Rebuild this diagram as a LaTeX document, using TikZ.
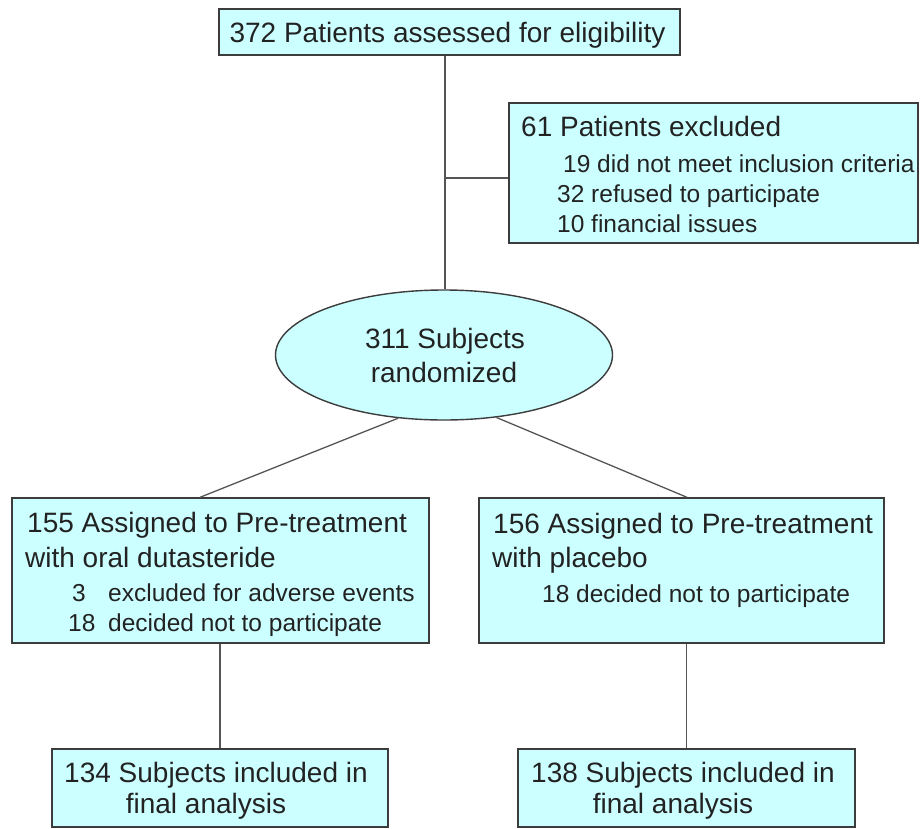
\documentclass[tikz,border=0pt]{standalone}
\usepackage{fontspec}
\setmainfont{Liberation Sans}
\usetikzlibrary{shapes.geometric}
\definecolor{boxfill}{HTML}{CCFFFF}
\definecolor{boxline}{HTML}{3C3C3C}
\definecolor{conn}{HTML}{555555}
\definecolor{txt}{HTML}{222222}
\begin{document}
\begin{tikzpicture}[x=1pt,y=-1pt,
  box/.style={draw=boxline,fill=boxfill,line width=1.4pt,inner sep=0pt,rectangle},
  oval/.style={draw=boxline,fill=boxfill,line width=1.4pt,inner sep=0pt,ellipse},
  big/.style={inner sep=0pt,text=txt,font=\fontsize{28}{33.6}\selectfont},
  small/.style={inner sep=0pt,text=txt,font=\fontsize{24.5}{29.4}\selectfont},
  link/.style={draw=conn,line width=1.3pt}]
\useasboundingbox (0,0) rectangle (921,828);
% boxes
\node[box,minimum width=461pt,minimum height=46pt] (top) at (449.5,32) {};
\node[box,minimum width=409pt,minimum height=140pt] (excl) at (713.5,173) {};
\node[oval,minimum width=337pt,minimum height=130pt] (ell) at (444,355) {};
\node[box,minimum width=417pt,minimum height=145pt] (lbox) at (220.5,570.5) {};
\node[box,minimum width=405pt,minimum height=145pt] (rbox) at (681.5,570.5) {};
\node[box,minimum width=336pt,minimum height=78pt] (lb2) at (220,788) {};
\node[box,minimum width=337pt,minimum height=78pt] (rb2) at (686.5,788) {};
% texts
\node[big,anchor=base] (ttop) at (447.5,42) {372 Patients assessed for eligibility};
\node[big,anchor=base west] (tex1) at (521,136) {61 Patients excluded};
\node[small,anchor=base west] (tex2) at (563,172) {19 did not meet inclusion criteria};
\node[small,anchor=base west] (tex3) at (557,202) {32 refused to participate};
\node[small,anchor=base west] (tex4) at (557,232) {10 financial issues};
\node[big,anchor=base] (tel1) at (445,348) {311 Subjects};
\node[big,anchor=base] (tel2) at (444,382) {randomized};
\node[big,anchor=base west] (tl1) at (27,532) {155 Assigned to Pre-treatment};
\node[big,anchor=base west] (tl2) at (25,567) {with oral dutasteride};
\node[small,anchor=base west] (tl3a) at (72,601) {3};
\node[small,anchor=base west] (tl3b) at (108,601) {excluded for adverse events};
\node[small,anchor=base west] (tl4a) at (68,631) {18};
\node[small,anchor=base west] (tl4b) at (108,631) {decided not to participate};
\node[big,anchor=base west] (tr1) at (493,533) {156 Assigned to Pre-treatment};
\node[big,anchor=base west] (tr2) at (492,567) {with placebo};
\node[small,anchor=base west] (tr3) at (542,602) {18 decided not to participate};
\node[big,anchor=base] (tlb1) at (216,782) {134 Subjects included in};
\node[big,anchor=base] (tlb2) at (206,813) {final analysis};
\node[big,anchor=base] (trb1) at (683,782) {138 Subjects included in};
\node[big,anchor=base] (trb2) at (673,813) {final analysis};
% connectors
\coordinate (vx) at (445,0);
\coordinate (j) at (445,178);
\coordinate (la) at (200,0);
\coordinate (ra) at (687,0);
\draw[link] (top.south -| vx) -- (ell.north -| vx);
\draw[link] (j) -- (j -| excl.west);
\draw[link] (ell.-126) -- (lbox.north -| la);
\draw[link] (ell.-50) -- (rbox.north -| ra);
\draw[link] (lb2.north |- lbox.south) -- (lb2.north);
\draw[link] (rb2.north |- rbox.south) -- (rb2.north);
\end{tikzpicture}
\end{document}
